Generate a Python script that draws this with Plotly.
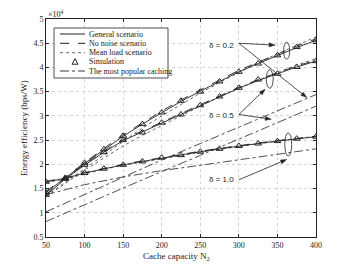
import math
import plotly.graph_objects as go

# ---------------- data (energy efficiency in units of 1e4 bps/W) ----------------
N = [50, 75, 100, 125, 150, 175, 200, 225, 250, 275, 300, 325, 350, 375, 400]

gen_02 = [1.42, 1.72, 2.02, 2.30, 2.58, 2.83, 3.07, 3.30, 3.51, 3.71, 3.91, 4.08, 4.25, 4.41, 4.56]
noise_02 = [1.44, 1.74, 2.04, 2.33, 2.61, 2.86, 3.10, 3.33, 3.54, 3.74, 3.94, 4.11, 4.28, 4.44, 4.59]
mean_02 = [1.35, 1.63, 1.92, 2.20, 2.48, 2.75, 3.00, 3.24, 3.47, 3.69, 3.90, 4.10, 4.28, 4.46, 4.63]
sim_02 = [1.42, 1.72, 2.03, 2.31, 2.59, 2.83, 3.07, 3.31, 3.50, 3.71, 3.91, 4.08, 4.25, 4.42, 4.56]

gen_05 = [1.36, 1.70, 1.98, 2.25, 2.49, 2.67, 2.86, 3.04, 3.22, 3.40, 3.57, 3.73, 3.87, 4.01, 4.13]
noise_05 = [1.38, 1.72, 2.00, 2.27, 2.51, 2.69, 2.88, 3.06, 3.24, 3.42, 3.59, 3.75, 3.89, 4.03, 4.15]
mean_05 = [1.33, 1.60, 1.88, 2.13, 2.38, 2.60, 2.80, 3.01, 3.20, 3.40, 3.58, 3.74, 3.90, 4.05, 4.18]
sim_05 = [1.37, 1.70, 1.99, 2.25, 2.50, 2.66, 2.86, 3.03, 3.22, 3.40, 3.58, 3.75, 3.87, 4.01, 4.13]

gen_10 = [1.64, 1.71, 1.82, 1.91, 1.99, 2.06, 2.13, 2.19, 2.26, 2.32, 2.38, 2.43, 2.48, 2.53, 2.57]
noise_10 = [1.65, 1.72, 1.83, 1.92, 2.00, 2.07, 2.14, 2.20, 2.27, 2.33, 2.39, 2.44, 2.49, 2.54, 2.58]
mean_10 = [1.62, 1.70, 1.80, 1.90, 1.98, 2.05, 2.12, 2.18, 2.25, 2.31, 2.37, 2.43, 2.48, 2.53, 2.58]
sim_10 = [1.64, 1.71, 1.82, 1.91, 1.99, 2.06, 2.14, 2.19, 2.26, 2.32, 2.38, 2.43, 2.48, 2.53, 2.57]

N_pop = [50, 100, 150, 200, 250, 300, 350, 400]
pop_02 = [1.02, 1.38, 1.74, 2.09, 2.43, 2.77, 3.11, 3.44]
pop_05 = [0.82, 1.17, 1.51, 1.85, 2.18, 2.52, 2.86, 3.20]
pop_10 = [1.37, 1.58, 1.74, 1.87, 1.98, 2.09, 2.21, 2.32]

x_ticks = [50, 100, 150, 200, 250, 300, 350, 400]
y_ticks = [0.5, 1, 1.5, 2, 2.5, 3, 3.5, 4, 4.5, 5]
y_tick_text = ["0.5", "1", "1.5", "2", "2.5", "3", "3.5", "4", "4.5", "5"]

legend_labels = ["General scenario", "No noise scenario", "Mean load scenario",
                 "Simulation", "The most popular caching"]

SCALE = 1e4
INK = "#222222"
SERIF = "Liberation Serif"
SANS = "Liberation Sans"
X_RANGE = [50, 400]
Y_RANGE = [0.5, 5]

def sc(v):
    return [a * SCALE for a in v]

fig = go.Figure()

for gen, noise, mean, sim in [(gen_02, noise_02, mean_02, sim_02),
                              (gen_05, noise_05, mean_05, sim_05),
                              (gen_10, noise_10, mean_10, sim_10)]:
    fig.add_trace(go.Scatter(x=N, y=sc(mean), mode="lines",
                             line=dict(color="#666666", width=1, dash="dot"), showlegend=False))
    fig.add_trace(go.Scatter(x=N, y=sc(noise), mode="lines",
                             line=dict(color=INK, width=0.9, dash="dash"), showlegend=False))
    fig.add_trace(go.Scatter(x=N, y=sc(gen), mode="lines",
                             line=dict(color=INK, width=0.9), showlegend=False))
    fig.add_trace(go.Scatter(x=N, y=sc(sim), mode="markers",
                             marker=dict(symbol="triangle-up-open", size=6, color=INK,
                                         line=dict(width=1, color=INK)), showlegend=False))

for pop in [pop_02, pop_05, pop_10]:
    fig.add_trace(go.Scatter(x=N_pop, y=sc(pop), mode="lines",
                             line=dict(color=INK, width=0.8, dash="dashdot"), showlegend=False))

# ---------------- layout geometry ----------------
W, H = 349, 266
L, R, T, B = 46, 33, 19, 29
PW, PH = W - L - R, H - T - B

def px(x):
    return (x - L) / PW

def py(y):
    return 1 - (y - T) / PH

def d2p(n, v):
    """data -> pixel position inside the page"""
    return (L + (n - X_RANGE[0]) / (X_RANGE[1] - X_RANGE[0]) * PW,
            T + (Y_RANGE[1] - v) / (Y_RANGE[1] - Y_RANGE[0]) * PH)

shapes = []
annotations = []

# legend box (manual, compact like the reference)
shapes.append(dict(type="rect", xref="paper", yref="paper",
                   x0=px(54), x1=px(168), y0=py(78), y1=py(28),
                   line=dict(color=INK, width=0.8), fillcolor="white", layer="above"))
row_y = [34, 43.3, 52.7, 61.7, 71]
styles = [("solid", 1), ("dash", 1), ("dot", 1), (None, 0), ("dashdot", 0.9)]
for lab, yy, (dash, w) in zip(legend_labels, row_y, styles):
    if dash is not None:
        shapes.append(dict(type="line", xref="paper", yref="paper",
                           x0=px(60), x1=px(85), y0=py(yy), y1=py(yy),
                           line=dict(color=INK if dash != "dot" else "#666666", width=w, dash=dash),
                           layer="above"))
    else:
        path = "M {},{} L {},{} L {},{} Z".format(px(72), py(yy + 2.5), px(78), py(yy + 2.5),
                                                  px(75), py(yy - 3))
        shapes.append(dict(type="path", xref="paper", yref="paper", path=path,
                           line=dict(color=INK, width=1), layer="above"))
    annotations.append(dict(xref="paper", yref="paper", x=px(87), y=py(yy), text=lab,
                            showarrow=False, xanchor="left", yanchor="middle",
                            font=dict(family=SERIF, size=8, color=INK)))

# ellipses marking the curve groups
for (x0, x1, y0, y1) in [(358, 366, 4.17, 4.52), (335.5, 344.5, 3.57, 3.95), (359.5, 368.5, 2.17, 2.65)]:
    shapes.append(dict(type="circle", xref="x", yref="y", x0=x0, x1=x1,
                       y0=y0 * SCALE, y1=y1 * SCALE, line=dict(color=INK, width=0.8)))

def arrow(ax, ay, hx, hy, head_len=6.0, head_half=2.0):
    (x0, y0), (x1, y1) = d2p(ax, ay), d2p(hx, hy)
    dx, dy = x1 - x0, y1 - y0
    d = math.hypot(dx, dy)
    ux, uy = dx / d, dy / d
    bx, by = x1 - ux * head_len, y1 - uy * head_len
    nx, ny = -uy, ux
    shapes.append(dict(type="line", xref="paper", yref="paper",
                       x0=px(x0), y0=py(y0), x1=px(bx), y1=py(by),
                       line=dict(color=INK, width=0.8)))
    path = "M {},{} L {},{} L {},{} Z".format(
        px(x1), py(y1),
        px(bx + nx * head_half), py(by + ny * head_half),
        px(bx - nx * head_half), py(by - ny * head_half))
    shapes.append(dict(type="path", xref="paper", yref="paper", path=path,
                       fillcolor=INK, line=dict(color=INK, width=0.5)))

# delta labels and arrows
labels = [("δ = 0.2", 277, 4.46, 300, 4.50, [(347, 4.46), (388, 3.38)]),
          ("δ = 0.5", 277, 3.01, 300, 3.03, [(334, 3.55), (342, 2.93)]),
          ("δ = 1.0", 277, 1.69, 300, 1.68, [(362, 2.10)])]
for text, tx, ty, ax, ay, heads in labels:
    for hx, hy in heads:
        arrow(ax, ay, hx, hy)
    annotations.append(dict(x=tx, y=ty * SCALE, xref="x", yref="y", text=text,
                            showarrow=False, font=dict(family=SANS, size=8, color=INK),
                            bgcolor="white"))

# exponent label
annotations.append(dict(xref="paper", yref="paper", x=px(46), y=py(14), text="×10<sup>4</sup>",
                        showarrow=False, xanchor="left", yanchor="middle",
                        font=dict(family=SERIF, size=8, color=INK)))

# axis titles (placed like the reference)
annotations.append(dict(xref="paper", yref="paper", x=px(24), y=py(128),
                        text="Energy efficiency (bps/W)", textangle=-90, showarrow=False,
                        xanchor="center", yanchor="middle",
                        font=dict(family=SERIF, size=9, color=INK)))
annotations.append(dict(xref="paper", yref="paper", x=px(176), y=py(256),
                        text="Cache capacity N<sub>2</sub>", showarrow=False,
                        xanchor="center", yanchor="middle",
                        font=dict(family=SERIF, size=9, color=INK)))

axis_common = dict(showline=True, linecolor=INK, linewidth=0.8, mirror="ticks",
                   ticks="inside", ticklen=3, tickcolor=INK, tickwidth=0.8,
                   showgrid=True, gridcolor="#d4d4d4", gridwidth=0.6, griddash="dot",
                   zeroline=False, tickfont=dict(family=SERIF, size=8, color=INK))

fig.update_layout(
    width=W, height=H,
    margin=dict(l=L, r=R, t=T, b=B),
    paper_bgcolor="white", plot_bgcolor="white",
    showlegend=False,
    shapes=shapes, annotations=annotations,
    xaxis=dict(range=[X_RANGE[0], X_RANGE[1]], tickvals=x_ticks, **axis_common),
    yaxis=dict(range=[Y_RANGE[0] * SCALE, Y_RANGE[1] * SCALE], tickvals=[v * SCALE for v in y_ticks],
               ticktext=y_tick_text, **axis_common),
)

# remove the browser's default 8px body margin so the figure fills the window exactly
fig.write_html("out.html", config={"displayModeBar": False},
               post_script="document.body.style.margin='0';document.body.style.overflow='hidden';")
